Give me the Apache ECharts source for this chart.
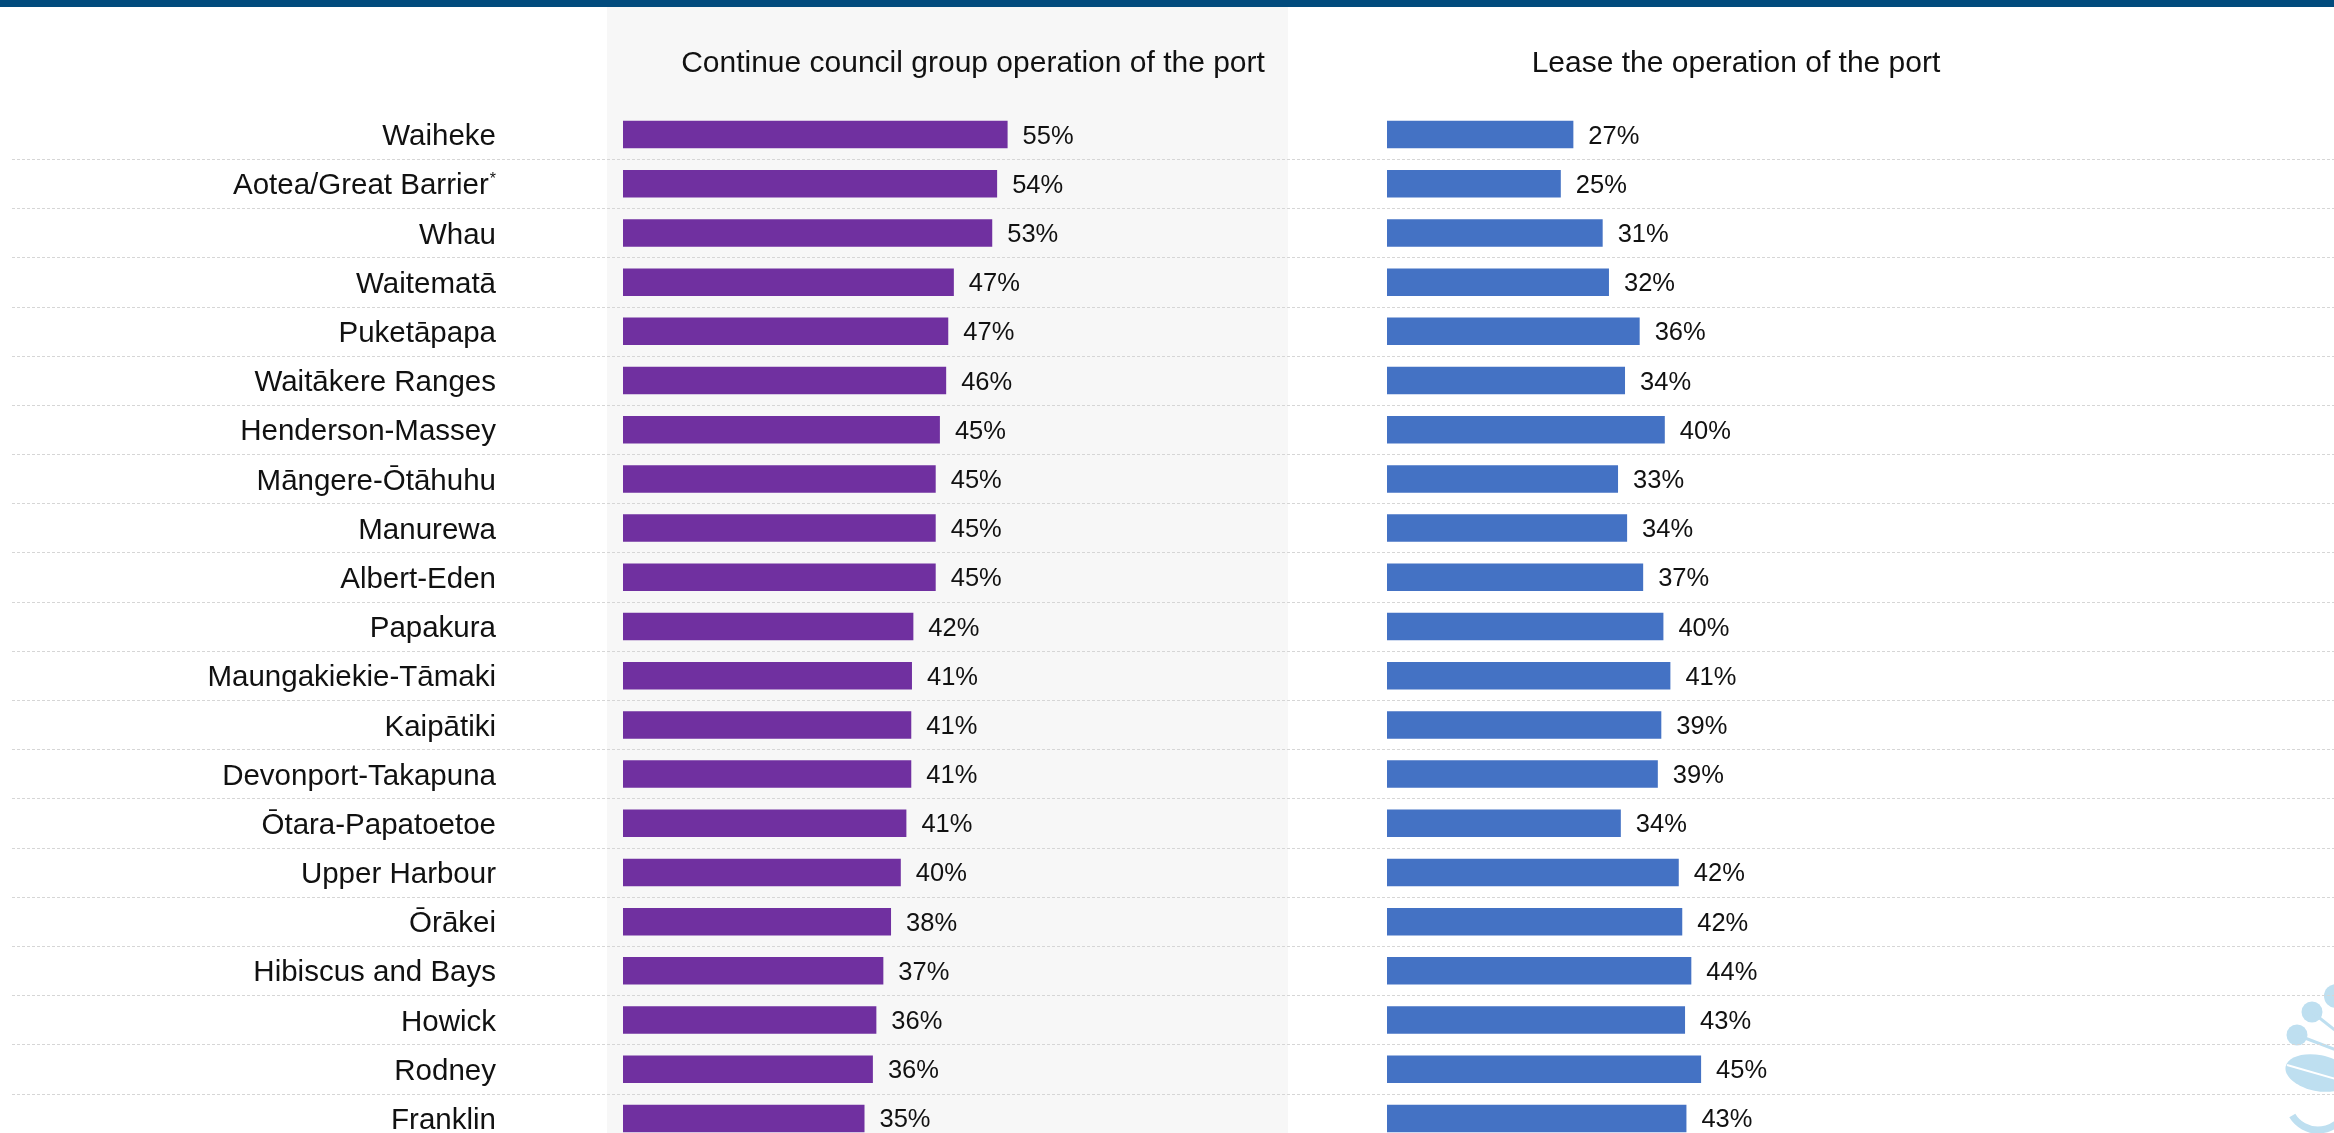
<!DOCTYPE html>
<html>
<head>
<meta charset="utf-8">
<title>Port operation preference by local board</title>
<script src="https://cdn.jsdelivr.net/npm/echarts@6.0.0/dist/echarts.min.js"></script>
<style>
  html, body { margin: 0; padding: 0; background: #fff; overflow: hidden; }
  /* a little taller than the window: the last row is cut off at the bottom edge */
  #chart { width: 2334px; height: 1150px; }
</style>
</head>
<body>
<div id="chart"></div>
<script>
// local boards, top to bottom
var boards = [
  'Waiheke', 'Aotea/Great Barrier*', 'Whau', 'Waitematā', 'Puketāpapa',
  'Waitākere Ranges', 'Henderson-Massey', 'Māngere-Ōtāhuhu', 'Manurewa', 'Albert-Eden',
  'Papakura', 'Maungakiekie-Tāmaki', 'Kaipātiki', 'Devonport-Takapuna', 'Ōtara-Papatoetoe',
  'Upper Harbour', 'Ōrākei', 'Hibiscus and Bays', 'Howick', 'Rodney', 'Franklin'
]
// % who prefer council group operation (labels are rounded)
var continueCouncil = [
  55.1, 53.6, 52.9, 47.4, 46.6, 46.3, 45.4, 44.8, 44.8, 44.8,
  41.6, 41.4, 41.3, 41.3, 40.6, 39.8, 38.4, 37.3, 36.3, 35.8, 34.6
]
// % who prefer leasing the operation
var leasePort = [
  26.7, 24.9, 30.9, 31.8, 36.2, 34.1, 39.8, 33.1, 34.4, 36.7,
  39.6, 40.6, 39.3, 38.8, 33.5, 41.8, 42.3, 43.6, 42.7, 45.0, 42.9
]
var panelTitles = ['Continue council group operation of the port', 'Lease the operation of the port']

var FONT = 'Liberation Sans, Arial, sans-serif'
var rowsTop = 110
var rowsHeight = 1033

var myChart = echarts.init(document.getElementById('chart'))

function pctLabel (p) {
  return Math.round(p.value) + '%'
}

function barSeries (idx, data, color) {
  return {
    type: 'bar',
    xAxisIndex: idx,
    yAxisIndex: idx,
    data: data,
    barWidth: 27.5,
    itemStyle: { color: color },
    label: {
      show: true,
      position: 'right',
      distance: 15,
      offset: [0, 2],
      formatter: pctLabel,
      fontFamily: FONT,
      fontSize: 25.5,
      color: '#111'
    },
    silent: true
  }
}

myChart.setOption({
  animation: false,
  grid: [
    { left: 623, top: rowsTop, width: 698, height: rowsHeight },
    { left: 1387, top: rowsTop, width: 698, height: rowsHeight },
    // only used for the dotted row separators across the page
    { left: 12, top: rowsTop, width: 2322, height: rowsHeight }
  ],
  xAxis: [
    { gridIndex: 0, type: 'value', min: 0, max: 100, show: false },
    { gridIndex: 1, type: 'value', min: 0, max: 100, show: false },
    { gridIndex: 2, type: 'value', min: 0, max: 100, show: false }
  ],
  yAxis: [
    {
      gridIndex: 0,
      type: 'category',
      inverse: true,
      data: boards,
      axisLine: { show: false },
      axisTick: { show: false },
      splitLine: { show: false },
      axisLabel: {
        margin: 127,
        padding: [5, 0, 0, 0],
        fontFamily: FONT,
        fontSize: 29.5,
        color: '#111',
        formatter: function (v) {
          // asterisk shown as a superscript
          if (v.indexOf('*') > -1) return v.replace('*', '') + '{sup|*}'
          return v
        },
        rich: {
          sup: { fontSize: 16, fontFamily: FONT, color: '#111', padding: [0, 0, 14, 1] }
        }
      }
    },
    {
      gridIndex: 1,
      type: 'category',
      inverse: true,
      data: boards,
      axisLine: { show: false },
      axisTick: { show: false },
      axisLabel: { show: false },
      splitLine: { show: false }
    },
    {
      gridIndex: 2,
      type: 'category',
      inverse: true,
      data: boards,
      axisLine: { show: false },
      axisTick: { show: false },
      axisLabel: { show: false },
      splitLine: {
        show: true,
        showMinLine: false,
        lineStyle: { color: '#d6d6d6', width: 1, type: [3, 2] }
      }
    }
  ],
  graphic: [
    // dark strip across the top
    { type: 'rect', z: -20, shape: { x: 0, y: 0, width: 2334, height: 7 }, style: { fill: '#024B7D' } },
    // shaded panel behind the first set of bars
    { type: 'rect', z: -20, shape: { x: 607, y: 7, width: 681, height: 1143 }, style: { fill: '#f7f7f7' } },
    {
      type: 'text',
      style: { text: panelTitles[0], x: 973, y: 64, fill: '#111', font: '30px ' + FONT, textAlign: 'center', textVerticalAlign: 'middle' }
    },
    {
      type: 'text',
      style: { text: panelTitles[1], x: 1736, y: 64, fill: '#111', font: '30px ' + FONT, textAlign: 'center', textVerticalAlign: 'middle' }
    },
    // corner logo decoration
    { type: 'circle', shape: { cx: 2336, cy: 996, r: 12 }, style: { fill: '#BEDFF0' } },
    { type: 'circle', shape: { cx: 2312, cy: 1012, r: 10.5 }, style: { fill: '#BEDFF0' } },
    { type: 'circle', shape: { cx: 2297, cy: 1035, r: 10.5 }, style: { fill: '#BEDFF0' } },
    { type: 'line', shape: { x1: 2312, y1: 1012, x2: 2336, y2: 1031 }, style: { stroke: '#BEDFF0', lineWidth: 3 } },
    { type: 'line', shape: { x1: 2297, y1: 1035, x2: 2336, y2: 1050 }, style: { stroke: '#BEDFF0', lineWidth: 3 } },
    { type: 'ellipse', rotation: -0.2, originX: 2318, originY: 1073, shape: { cx: 2318, cy: 1073, rx: 33, ry: 18 }, style: { fill: '#BEDFF0' } },
    { type: 'line', shape: { x1: 2287, y1: 1065, x2: 2336, y2: 1079 }, style: { stroke: '#fff', lineWidth: 2 } },
    { type: 'arc', shape: { cx: 2318, cy: 1100, r: 30, startAngle: 0.5, endAngle: 2.6 }, style: { stroke: '#BEDFF0', lineWidth: 7, fill: 'none' } }
  ],
  series: [
    barSeries(0, continueCouncil, '#7030A0'),
    barSeries(1, leasePort, '#4472C4')
  ]
})
</script>
</body>
</html>
